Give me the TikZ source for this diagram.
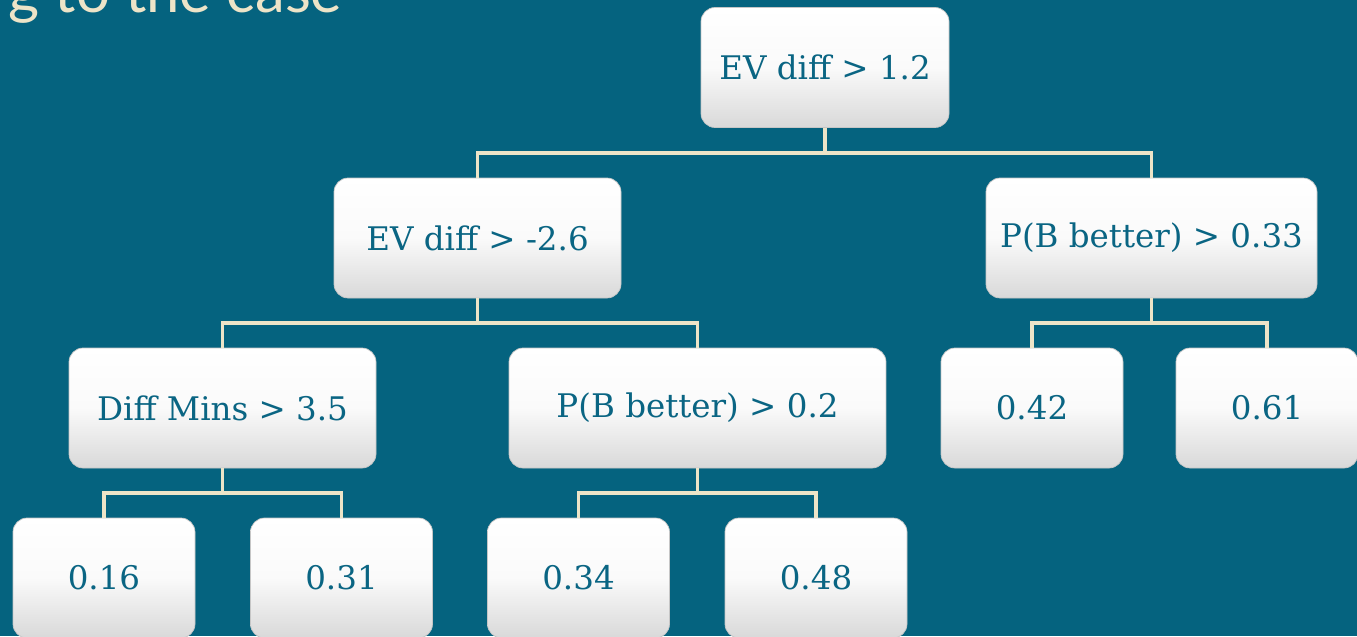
\documentclass[tikz,border=0pt]{standalone}
\usepackage{fontspec}
\setmainfont{DejaVu Serif}
\newfontfamily\titlefont{Lato}
\usepackage{tikz}

\definecolor{bgteal}{HTML}{05637F}
\definecolor{inkteal}{HTML}{0A6583}
\definecolor{twig}{HTML}{EDE4C8}

\tikzset{
  split/.style={draw=gray!45, rounded corners=8pt, top color=white, bottom color=gray!30,
    middle color=white!96!gray, minimum height=2.4cm, text=inkteal,
    font=\fontsize{18.5}{21}\selectfont, inner sep=0pt},
  leaf/.style={split, minimum width=3.64cm},
  branch/.style={draw=twig, line width=2.2pt, to path={(\tikztostart) -- ++(0,-0.5) -| (\tikztotarget)}}
}

\begin{document}
\begin{tikzpicture}
        \useasboundingbox (0,0) rectangle (27.14,12.72);
        \fill[bgteal] (0,0) rectangle (27.14,12.72);
        \clip (0,0) rectangle (27.14,12.72);
        % leftover of the slide title
        \node[anchor=base west, text=twig, inner sep=0pt,
          font=\titlefont\fontsize{34}{38}\selectfont] (title) at (0.16,12.47) {g to the case};
        % tree of splits
        \node[split, minimum width=4.96cm] (root) at (16.5,11.37) {EV diff > 1.2};
        \node[split, minimum width=5.74cm] (evneg) at (9.55,7.96) {EV diff > -2.6};
        \node[split, minimum width=6.62cm] (pbhi) at (23.03,7.96) {P(B better) > 0.33};
        \node[split, minimum width=6.14cm] (mins) at (4.45,4.56) {Diff Mins > 3.5};
        \node[split, minimum width=7.54cm] (pblo) at (13.95,4.56) {P(B better) > 0.2};
        \node[leaf] (p42) at (20.64,4.56) {0.42};
        \node[leaf] (p61) at (25.34,4.56) {0.61};
        \node[leaf] (p16) at (2.08,1.16) {0.16};
        \node[leaf] (p31) at (6.83,1.16) {0.31};
        \node[leaf] (p34) at (11.57,1.16) {0.34};
        \node[leaf] (p48) at (16.32,1.16) {0.48};
        % connectors
        \foreach \a/\b in {root/evneg,root/pbhi,evneg/mins,evneg/pblo,pbhi/p42,pbhi/p61,
                           mins/p16,mins/p31,pblo/p34,pblo/p48}
          \draw[branch] (\a.south) to (\b.north);
      \end{tikzpicture}
\end{document}
